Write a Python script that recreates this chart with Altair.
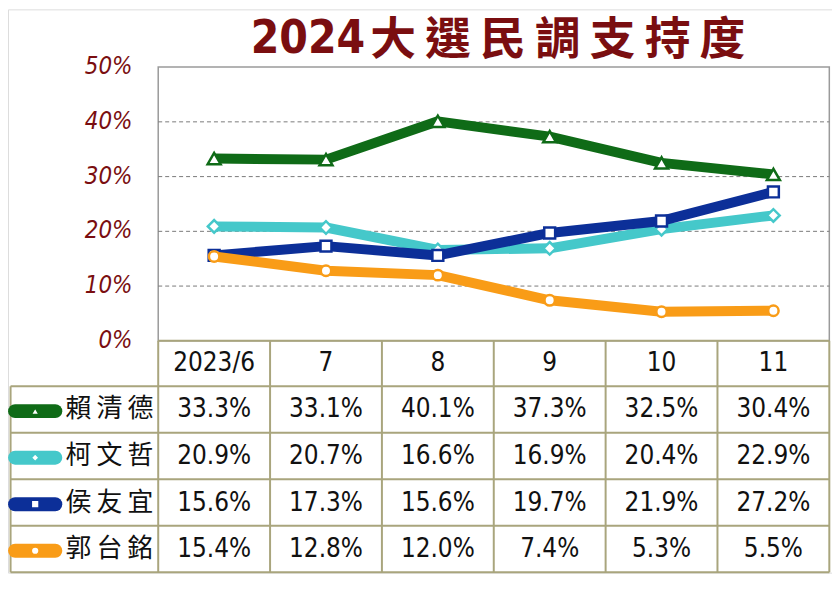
import altair as alt
import pandas as pd

# ---------------- data ----------------
months = ["2023/6", "7", "8", "9", "10", "11"]
candidates = ["賴清德", "柯文哲", "侯友宜", "郭台銘"]
lai = [33.3, 33.1, 40.1, 37.3, 32.5, 30.4]
ko = [20.9, 20.7, 16.6, 16.9, 20.4, 22.9]
hou = [15.6, 17.3, 15.6, 19.7, 21.9, 27.2]
guo = [15.4, 12.8, 12.0, 7.4, 5.3, 5.5]
series_values = [lai, ko, hou, guo]
y_ticks = [0, 10, 20, 30, 40, 50]
y_tick_labels = ["0%", "10%", "20%", "30%", "40%", "50%"]
title_year = "2024"
title_words = "大選民調支持度"

# ---------------- styles ----------------
colors = ["#0F6B17", "#45C8CA", "#0C2F98", "#F99C17"]
shapes = ["triangle-up", "diamond", "square", "circle"]
marker_sizes = [170, 160, 120, 110]
TITLE_RED = "#7A0E10"
GRID = "#7a7a7a"
TABLE_LINE = "#A9A57D"
NUM_FONT = "DejaVu Sans Condensed, Liberation Sans Narrow, sans-serif"
CJK_FONT = "Noto Sans CJK TC, Noto Sans CJK SC, sans-serif"
TITLE_CJK_FONT = "DejaVu Sans, Noto Sans CJK TC, sans-serif"

# layout (in scale units)
X_DOM = [-1.343, 6.024]
Y_DOM = [-42.35, 60.55]
COL0 = -1.32
HEADER_H = 8.3
ROW_H = 8.5
N = len(months)
BOTTOM = -HEADER_H - ROW_H * len(candidates)

xs = alt.Scale(domain=X_DOM, nice=False, zero=False)
ys = alt.Scale(domain=Y_DOM, nice=False, zero=False)


def X(f):
    return alt.X(f, type="quantitative", scale=xs, axis=None)


def Y(f):
    return alt.Y(f, type="quantitative", scale=ys, axis=None)


layers = []

# plot frame
frame = pd.DataFrame({"x": [0], "x2": [N], "y": [0], "y2": [y_ticks[-1]]})
layers.append(
    alt.Chart(frame).mark_rect(fillOpacity=0, stroke="#9a9a9a", strokeWidth=1.5)
    .encode(x=X("x"), x2=alt.X2("x2"), y=Y("y"), y2=alt.Y2("y2"))
)

# dashed gridlines
grid = pd.DataFrame({"y": y_ticks[1:-1], "x": 0, "x2": N})
layers.append(
    alt.Chart(grid).mark_rule(color=GRID, strokeDash=[4, 3], strokeWidth=1)
    .encode(x=X("x"), x2=alt.X2("x2"), y=Y("y"))
)

# y tick labels
ylab = pd.DataFrame({"y": y_ticks, "t": y_tick_labels, "x": -0.23})
layers.append(
    alt.Chart(ylab).mark_text(align="right", baseline="middle", font=NUM_FONT,
                              fontSize=24, fontStyle="italic", color=TITLE_RED)
    .encode(x=X("x"), y=Y("y"), text="t:N")
)

# table grid lines
h_rows = [{"x": 0, "x2": N, "y": 0}]
for r in range(len(candidates) + 1):
    h_rows.append({"x": COL0, "x2": N, "y": -HEADER_H - r * ROW_H})
hdf = pd.DataFrame(h_rows)
v_rows = [{"x": i, "y": 0, "y2": BOTTOM} for i in range(N + 1)]
v_rows.append({"x": COL0, "y": -HEADER_H, "y2": BOTTOM})
vdf = pd.DataFrame(v_rows)
layers.append(
    alt.Chart(hdf).mark_rule(color=TABLE_LINE, strokeWidth=2)
    .encode(x=X("x"), x2=alt.X2("x2"), y=Y("y"))
)
layers.append(
    alt.Chart(vdf).mark_rule(color=TABLE_LINE, strokeWidth=2)
    .encode(x=X("x"), y=Y("y"), y2=alt.Y2("y2"))
)

# header texts
head = pd.DataFrame({"x": [i + 0.5 for i in range(N)], "y": -HEADER_H / 2, "t": months})
layers.append(
    alt.Chart(head).mark_text(align="center", baseline="middle", font=NUM_FONT,
                              fontSize=26, color="#111111")
    .encode(x=X("x"), y=Y("y"), text="t:N")
)

# value texts
vals = []
for r, vlist in enumerate(series_values):
    for c, v in enumerate(vlist):
        vals.append({"x": c + 0.5, "y": -HEADER_H - (r + 0.5) * ROW_H, "t": f"{v:.1f}%"})
layers.append(
    alt.Chart(pd.DataFrame(vals)).mark_text(align="center", baseline="middle", font=NUM_FONT,
                                            fontSize=26, color="#111111")
    .encode(x=X("x"), y=Y("y"), text="t:N")
)

# row names + legend swatches
names = pd.DataFrame({
    "x": -0.83,
    "y": [-HEADER_H - (r + 0.5) * ROW_H for r in range(len(candidates))],
    "t": ["\u2009".join(n) for n in candidates],
})
layers.append(
    alt.Chart(names).mark_text(align="left", baseline="middle", font=CJK_FONT,
                               fontSize=26, color="#111111")
    .encode(x=X("x"), y=Y("y"), text="t:N")
)
for r, name in enumerate(candidates):
    yc = -HEADER_H - (r + 0.5) * ROW_H - 0.3
    sw = pd.DataFrame({"x": [-1.28, -0.92], "y": [yc, yc]})
    layers.append(
        alt.Chart(sw).mark_line(color=colors[r], strokeWidth=14, strokeCap="round")
        .encode(x=X("x"), y=Y("y"))
    )
    swp = pd.DataFrame({"x": [-1.10], "y": [yc]})
    layers.append(
        alt.Chart(swp).mark_point(shape=shapes[r], filled=True, fill="white", stroke=colors[r],
                                  strokeWidth=1.5, size=60, opacity=1)
        .encode(x=X("x"), y=Y("y"))
    )

# series lines + markers
for r, name in enumerate(candidates):
    df = pd.DataFrame({"x": [i + 0.5 for i in range(N)], "v": series_values[r]})
    layers.append(
        alt.Chart(df).mark_line(color=colors[r], strokeWidth=10, strokeJoin="round")
        .encode(x=X("x"), y=Y("v"))
    )
    layers.append(
        alt.Chart(df).mark_point(shape=shapes[r], filled=True, fill="white", stroke=colors[r],
                                 strokeWidth=2.5, size=marker_sizes[r], opacity=1)
        .encode(x=X("x"), y=Y("v"))
    )

# title: year part (condensed bold) + CJK part
ty = pd.DataFrame({"x": [1.851], "y": [52.64], "t": [title_year]})
layers.append(
    alt.Chart(ty).mark_text(align="right", baseline="alphabetic", font=NUM_FONT,
                            fontSize=46, fontWeight="bold", color=TITLE_RED)
    .encode(x=X("x"), y=Y("y"), text="t:N")
)
tw = pd.DataFrame({"x": [1.895], "y": [52.19], "t": ["\u2009".join(title_words)]})
layers.append(
    alt.Chart(tw).mark_text(align="left", baseline="alphabetic", font=TITLE_CJK_FONT,
                            fontSize=46, fontWeight="bold", color=TITLE_RED)
    .encode(x=X("x"), y=Y("y"), text="t:N")
)

chart = (
    alt.layer(*layers)
    .properties(width=828, height=566, padding=0,
                autosize=alt.AutoSizeParams(type="none"))
    .configure_view(stroke=None)
    .configure(background="white")
)

chart.save("out.html", embed_options={"renderer": "svg", "actions": False})
